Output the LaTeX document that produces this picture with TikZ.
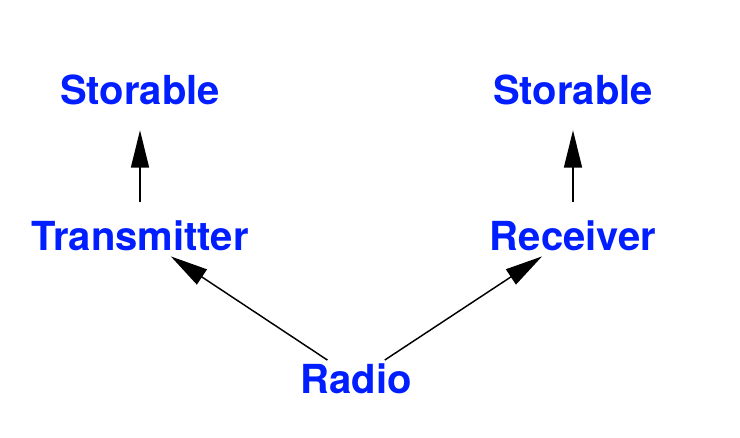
\documentclass[tikz,border=0pt]{standalone}
\usepackage{fontspec}
\setmainfont{TeX Gyre Heros}
\usetikzlibrary{arrows.meta}
\definecolor{labelblue}{RGB}{0,30,255}

\begin{document}
\begin{tikzpicture}[x=0.75pt, y=-0.75pt,
lbl/.style={font=\fontsize{30}{35}\selectfont\bfseries, text=labelblue, inner sep=0pt, minimum height=28pt},
link/.style={-{Triangle[length=28pt, width=13.5pt]}, line width=1.1pt}]
\useasboundingbox (0,0) rectangle (740,438);
	\node[lbl] (storeT) at (140,90) {Storable};
	\node[lbl] (storeR) at (573,90) {Storable};
	\node[lbl] (trans) at (140,236) {Transmitter};
	\node[lbl] (recv) at (573,236) {Receiver};
	\node[lbl] (radio) at (356,379) {Radio};
	%arrows
	\draw[link, shorten >=16pt, shorten <=11pt] (trans) -- (storeT);
	\draw[link, shorten >=16pt, shorten <=11pt] (recv) -- (storeR);
	\draw[link, shorten >=2pt] (radio) -- (trans);
	\draw[link, shorten >=2pt] (radio) -- (recv);
\end{tikzpicture}
\end{document}
